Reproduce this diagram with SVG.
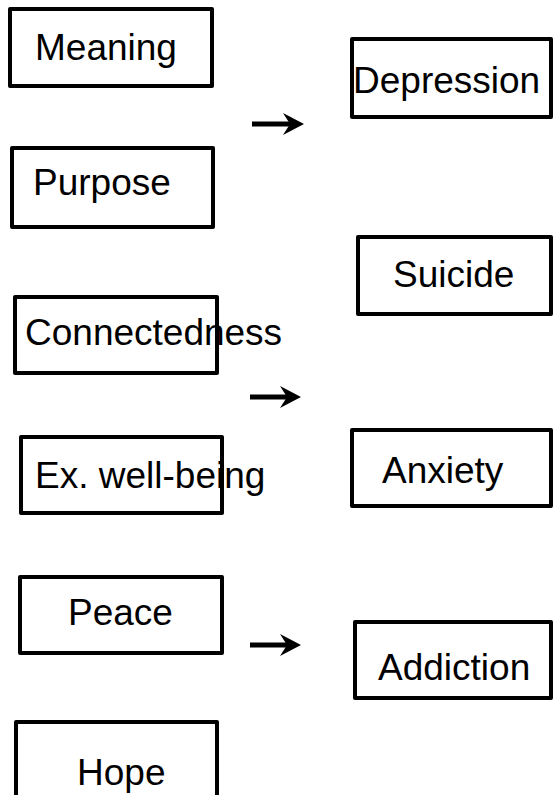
<svg xmlns="http://www.w3.org/2000/svg" width="553" height="795" viewBox="0 0 553 795">
<style>
.box{fill:#fff;stroke:#000;stroke-width:4;stroke-linejoin:round}
.lbl{font-family:"Liberation Sans",Arial,sans-serif;font-size:37px;fill:#000}
.arr{stroke:#000;stroke-width:5;fill:none}
.head{fill:#000;stroke:none}
</style>
<defs>
<path id="ah" d="M-21,-11 L0,0 L-21,11 L-14,0 Z"/>
</defs>
<rect width="553" height="795" fill="#fff"/>
<g id="meaning"><rect class="box" x="10" y="9" width="202" height="77"/><text class="lbl" x="35" y="60">Meaning</text></g>
<g id="purpose"><rect class="box" x="12" y="148" width="201" height="79"/><text class="lbl" x="33" y="195">Purpose</text></g>
<g id="connectedness"><rect class="box" x="15" y="297" width="202" height="76"/><text class="lbl" x="25" y="345">Connectedness</text></g>
<g id="wellbeing"><rect class="box" x="21" y="437" width="201" height="76"/><text class="lbl" x="35" y="488">Ex. well-being</text></g>
<g id="peace"><rect class="box" x="20" y="577" width="202" height="76"/><text class="lbl" x="68" y="625">Peace</text></g>
<g id="hope"><rect class="box" x="16" y="722" width="201" height="90"/><text class="lbl" x="77" y="785">Hope</text></g>
<g id="depression"><rect class="box" x="352" y="39" width="199" height="78"/><text class="lbl" x="353" y="93">Depression</text></g>
<g id="suicide"><rect class="box" x="358" y="237" width="193" height="77"/><text class="lbl" x="393" y="287">Suicide</text></g>
<g id="anxiety"><rect class="box" x="352" y="430" width="199" height="76"/><text class="lbl" x="382" y="483">Anxiety</text></g>
<g id="addiction"><rect class="box" x="355" y="622" width="196" height="76"/><text class="lbl" x="378" y="680">Addiction</text></g>
<g id="connectors">
<line class="arr" x1="252" y1="124" x2="292" y2="124"/>
<use href="#ah" class="head" x="304" y="124"/>
<line class="arr" x1="250" y1="397" x2="289" y2="397"/>
<use href="#ah" class="head" x="301" y="397"/>
<line class="arr" x1="250" y1="645" x2="289" y2="645"/>
<use href="#ah" class="head" x="301" y="645"/>
</g>
</svg>
